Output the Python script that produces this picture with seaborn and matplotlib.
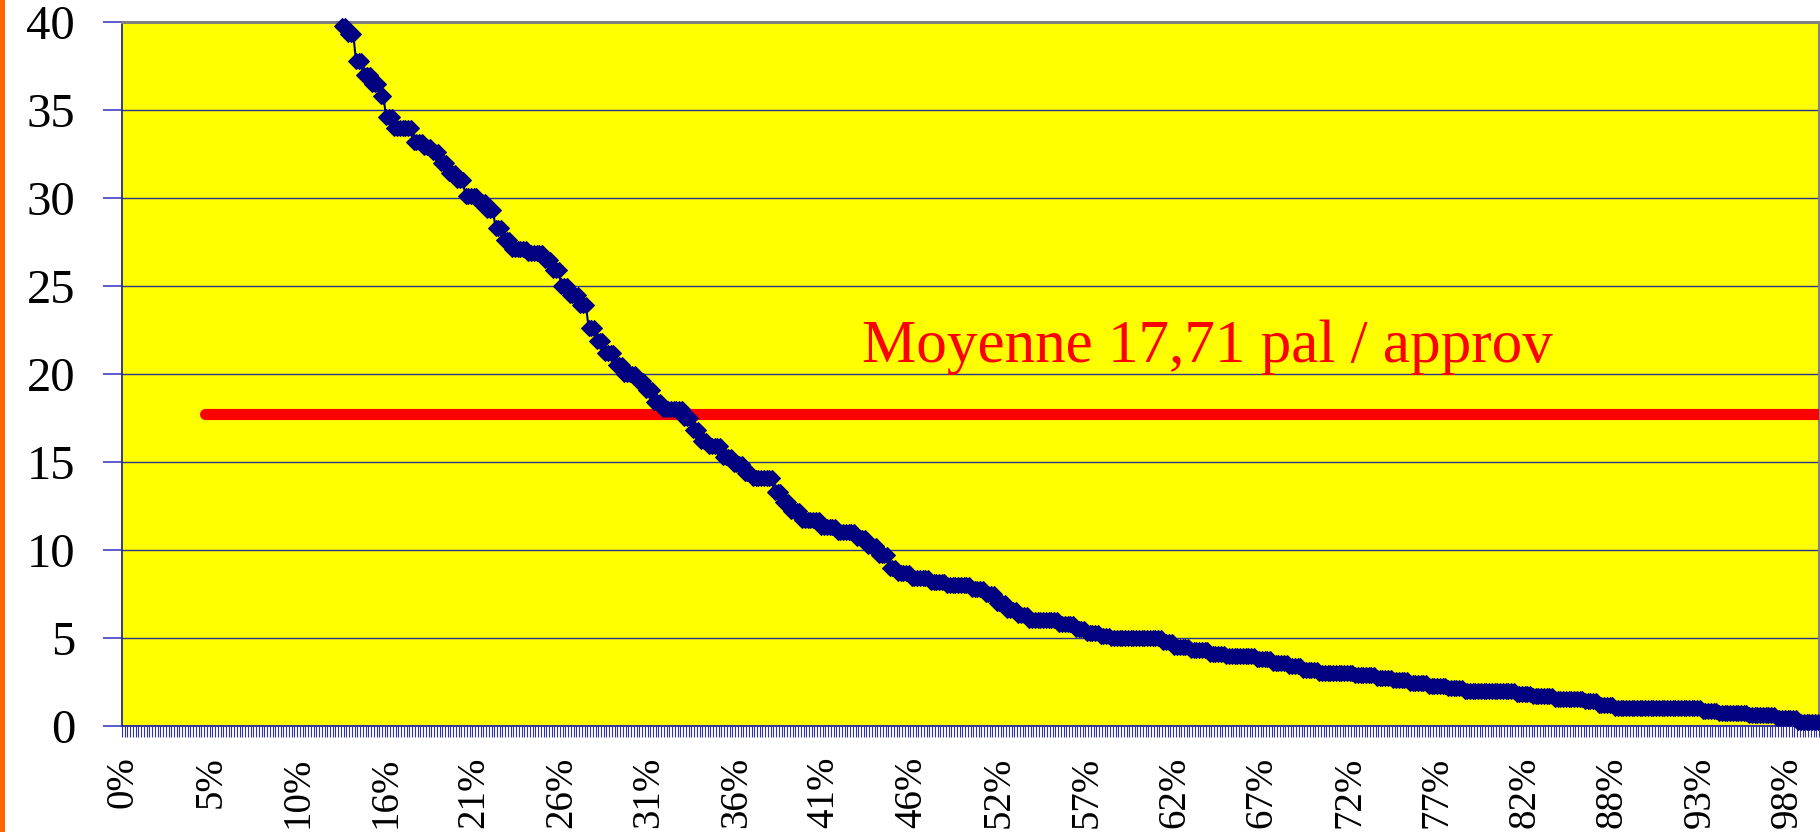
import numpy as np
import pandas as pd
import matplotlib
matplotlib.use("Agg")
import matplotlib.pyplot as plt
from matplotlib.patches import Rectangle
import seaborn as sns

# ---------------- data ----------------
# number of orders whose value lies above the axis maximum (not readable)
hidden_above_max = 80
# plateau levels of the sorted curve (pallets per order) and how many orders sit on each
levels = [39.8, 39.3, 37.8, 37.0, 36.5, 35.8, 34.6, 34.0, 33.2, 32.9,
          32.6, 32.0, 31.4, 31.0, 30.1, 29.8, 29.3, 28.3, 27.6, 27.1,
          26.9, 26.5, 25.9, 25.0, 24.5, 23.9, 22.6, 21.9, 21.2, 20.5,
          20.0, 19.6, 19.1, 18.4, 18.0, 17.5, 16.8, 16.2, 15.9, 15.3,
          14.9, 14.4, 14.1, 13.3, 12.7, 12.2, 11.7, 11.3, 11.0, 10.7,
          10.2, 9.7, 9.0, 8.7, 8.4, 8.2, 8.0, 7.8, 7.5, 7.0,
          6.6, 6.3, 6.0, 5.8, 5.5, 5.3, 5.1, 5.0, 4.8, 4.5,
          4.3, 4.1, 4.0, 3.8, 3.6, 3.4, 3.2, 3.0, 2.9, 2.7,
          2.6, 2.45, 2.3, 2.15, 2.0, 1.8, 1.7, 1.55, 1.4, 1.2,
          1.0, 0.85, 0.75, 0.6, 0.45, 0.25]
counts = [2, 3, 3, 3, 3, 2, 3, 7, 4, 3,
          3, 3, 3, 3, 5, 3, 3, 3, 3, 6,
          6, 3, 3, 3, 4, 3, 3, 3, 4, 3,
          5, 3, 3, 3, 8, 3, 3, 3, 5, 4,
          4, 3, 8, 3, 3, 4, 7, 6, 7, 4,
          4, 4, 3, 5, 7, 6, 9, 5, 4, 4,
          4, 4, 11, 6, 4, 5, 4, 19, 4, 6,
          7, 6, 11, 6, 6, 5, 6, 13, 8, 6,
          6, 7, 7, 6, 19, 6, 8, 11, 5, 6,
          32, 6, 11, 10, 8, 8]
mean_value = 17.71
mean_label = "Moyenne 17,71 pal / approv"
mean_from_category = 30
label_every = 32
tick_labels = ["0%", "5%", "10%", "16%", "21%", "26%", "31%", "36%", "41%", "46%",
               "52%", "57%", "62%", "67%", "72%", "77%", "82%", "88%", "93%", "98%"]
y_ticks = [0, 5, 10, 15, 20, 25, 30, 35, 40]

# ---------------- build tables ----------------
values = np.repeat(levels, counts)
n_total = hidden_above_max + len(values)
curve = pd.DataFrame({"cat": np.arange(hidden_above_max, n_total), "val": values})
mean_cats = np.arange(mean_from_category, n_total)
mean_df = pd.DataFrame({"cat": mean_cats, "val": np.full(len(mean_cats), mean_value)})

# ---------------- style ----------------
sns.set_style("white")
plt.rcParams["font.family"] = ["Liberation Serif", "DejaVu Serif"]

W, H = 1820, 832
fig = plt.figure(figsize=(W / 100, H / 100), dpi=100)
fig.patch.set_facecolor("white")
ax = fig.add_axes([122 / W, (H - 726) / H, (1819 - 122) / W, (726 - 22) / H])
ax.set_facecolor("#FFFF00")

# orange strip at the far left of the slide
fig.patches.append(Rectangle((0, 0), 5 / W, 1, transform=fig.transFigure,
                             facecolor="#FF6600", edgecolor="none"))

# mean line
sns.lineplot(data=mean_df, x="cat", y="val", ax=ax, color="#FF0000",
             linewidth=8.0, solid_capstyle="round", estimator=None, sort=False,
             zorder=3)
# sorted curve
sns.lineplot(data=curve, x="cat", y="val", ax=ax, color="#000080",
             linewidth=1.5, marker="D", markersize=8.0,
             markeredgecolor="#000080", markerfacecolor="#000080",
             estimator=None, sort=False, zorder=4, clip_on=False)

ax.text(270, 20.7, mean_label, color="#FF0000", fontsize=44,
        family=["Liberation Serif", "DejaVu Serif"], va="baseline", ha="left",
        zorder=5)

# axes
ax.set_xlim(-0.5, n_total - 0.5)
ax.set_ylim(0, 40)
ax.set_yticks(y_ticks)
ax.set_yticklabels([str(v) for v in y_ticks])
ax.set_xticks(np.arange(len(tick_labels)) * label_every)
ax.set_xticklabels(tick_labels, rotation=90, va="top", ha="center")
ax.set_xticks(np.arange(-0.5, n_total, 1), minor=True)
ax.set_xlabel("")
ax.set_ylabel("")

ax.tick_params(axis="y", which="major", direction="out", length=13.7, width=1.2,
               color="#4040C0", pad=20, labelsize=35, labelcolor="black", left=True)
ax.tick_params(axis="x", which="major", length=0, pad=22, labelsize=28,
               labelcolor="black", bottom=True)
ax.tick_params(axis="x", which="minor", direction="out", length=8, width=0.8,
               color="#3030B0", bottom=True)

ax.yaxis.grid(True, color="#303090", linewidth=1.0)
ax.xaxis.grid(False)
ax.set_axisbelow(True)

for side in ["left", "bottom"]:
    ax.spines[side].set_color("#2828A0")
    ax.spines[side].set_linewidth(1.3)
for side in ["top", "right"]:
    ax.spines[side].set_visible(True)
    ax.spines[side].set_color("#808080")
    ax.spines[side].set_linewidth(2.2)

fig.savefig("out.png", dpi=100, facecolor="white")
